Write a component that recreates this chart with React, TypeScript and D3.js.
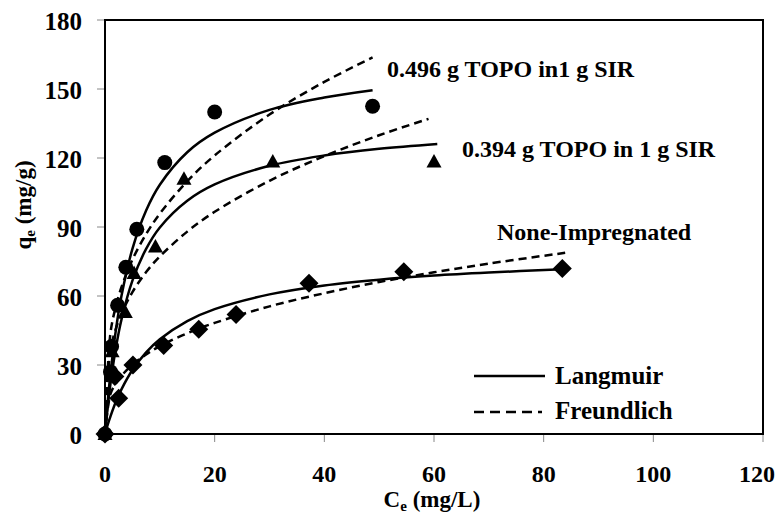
import React from "react";
import * as d3 from "d3";

// Experimental data (Ce mg/L, qe mg/g)
const circleData: [number, number][] = [
  [0, 0], [1.0, 27], [1.2, 38], [2.3, 56], [3.8, 72.5], [5.8, 89], [10.9, 118], [20, 140], [48.8, 142.5],
];
const triangleData: [number, number][] = [
  [0, 0], [1.3, 36], [3.7, 53], [5.3, 70], [9.2, 81.5], [14.4, 111], [30.6, 118.5], [60, 118.5],
];
const diamondData: [number, number][] = [
  [0, 0], [2.5, 15.5], [1.8, 25], [5.1, 30], [10.7, 38.5], [17.1, 45.5], [23.9, 52], [37.2, 65.5], [54.5, 70.5], [83.4, 72],
];

// Model curves (Ce, qe)
const langmuirCircle: [number, number][] = [
  [0, 0], [0.5, 14.3], [1, 26.3], [2, 45.5], [3, 60.0], [5, 80.5], [7.5, 97.2], [10, 108.4], [15, 122.5], [20, 131.0], [30, 140.9], [40, 146.3], [48.8, 149.5],
];
const freundlichCircle: [number, number][] = [
  [0, 0], [1, 44.0], [2, 55.6], [3, 63.8], [5, 75.8], [7.5, 86.9], [10, 95.8], [15, 109.9], [20, 121.1], [30, 138.9], [40, 153.1], [48.8, 163.7],
];
const langmuirTriangle: [number, number][] = [
  [0, 0], [0.5, 11.9], [1, 21.9], [2, 37.7], [3, 49.7], [5, 66.7], [7.5, 80.5], [10, 89.8], [15, 101.4], [20, 108.5], [30, 116.6], [40, 121.1], [50, 124.0], [60.6, 126.1],
];
const freundlichTriangle: [number, number][] = [
  [0, 0], [1, 36.7], [2, 45.9], [3, 52.3], [5, 61.7], [7.5, 70.4], [10, 77.2], [15, 88.0], [20, 96.6], [30, 110.1], [40, 120.8], [50, 129.9], [59, 137.0],
];
const langmuirNone: [number, number][] = [
  [0, 0], [0.5, 4.1], [1, 7.7], [2, 14.1], [3, 19.4], [5, 27.8], [7.5, 35.5], [10, 41.2], [15, 49.1], [20, 54.3], [30, 60.7], [40, 64.6], [50, 67.1], [60, 68.9], [70, 70.2], [83.4, 71.6],
];
const freundlichNone: [number, number][] = [
  [0, 0], [1, 17.4], [2, 22.0], [3, 25.3], [5, 30.1], [7.5, 34.6], [10, 38.2], [15, 43.8], [20, 48.3], [30, 55.5], [40, 61.2], [50, 66.1], [60, 70.3], [70, 74.1], [84.3, 78.9],
];

const xTicks = [0, 20, 40, 60, 80, 100, 120];
const yTicks = [0, 30, 60, 90, 120, 150, 180];
const seriesLabels = ["0.496 g TOPO in1 g SIR", "0.394 g TOPO in 1 g SIR", "None-Impregnated"];
const legendLabels = ["Langmuir", "Freundlich"];

const W = 777;
const H = 515;
const FONT = "'Liberation Serif', 'Times New Roman', serif";

export default function App() {
  const x = d3.scaleLinear().domain([0, 120]).range([105, 763]);
  const y = d3.scaleLinear().domain([0, 180]).range([434, 20]);
  const line = d3
    .line<[number, number]>()
    .x((d) => x(d[0]))
    .y((d) => y(d[1]))
    .curve(d3.curveCatmullRom.alpha(0.5));

  const solid = [langmuirCircle, langmuirTriangle, langmuirNone];
  const dashed = [freundlichCircle, freundlichTriangle, freundlichNone];

  const tri = (cx: number, cy: number) => {
    const s = 7.5;
    return `M${cx},${cy - s}L${cx + s},${cy + s * 0.8}L${cx - s},${cy + s * 0.8}Z`;
  };
  const dia = (cx: number, cy: number) => {
    const s = 9.5;
    return `M${cx},${cy - s}L${cx + s},${cy}L${cx},${cy + s}L${cx - s},${cy}Z`;
  };

  return (
    <svg
      width={W}
      height={H}
      style={{ position: "absolute", left: 0, top: 0, background: "#fff" }}
      fontFamily={FONT}
      fontWeight="bold"
    >
      <rect x={0} y={0} width={W} height={H} fill="#fff" />
      {/* ticks */}
      {yTicks.map((t) => (
        <g key={"y" + t}>
          <line x1={97} x2={105} y1={y(t)} y2={y(t)} stroke="#888" strokeWidth={1} />
          <text x={82} y={y(t)} dy="0.38em" textAnchor="end" fontSize={25} fill="#000">
            {t}
          </text>
        </g>
      ))}
      {xTicks.map((t) => (
        <g key={"x" + t}>
          <line x1={x(t)} x2={x(t)} y1={434} y2={442} stroke="#888" strokeWidth={1} />
          <text x={Math.min(x(t), 757)} y={482} textAnchor="middle" fontSize={24} fill="#000">
            {t}
          </text>
        </g>
      ))}
      {/* plot border */}
      <rect x={105} y={20} width={763 - 105} height={434 - 20} fill="none" stroke="#000" strokeWidth={2} />

      {/* model curves */}
      {solid.map((s, i) => (
        <path key={"s" + i} d={line(s) || ""} fill="none" stroke="#000" strokeWidth={2.5} />
      ))}
      {dashed.map((s, i) => (
        <path key={"d" + i} d={line(s) || ""} fill="none" stroke="#000" strokeWidth={2.5} strokeDasharray="8,5" />
      ))}

      {/* markers */}
      {circleData.map((d, i) => (
        <circle key={"c" + i} cx={x(d[0])} cy={y(d[1])} r={7.5} fill="#000" />
      ))}
      {triangleData.map((d, i) => (
        <path key={"t" + i} d={tri(x(d[0]), y(d[1]))} fill="#000" />
      ))}
      {diamondData.map((d, i) => (
        <path key={"m" + i} d={dia(x(d[0]), y(d[1]))} fill="#000" />
      ))}

      {/* series annotations */}
      <text x={387} y={77} fontSize={24}>{seriesLabels[0]}</text>
      <text x={462} y={157} fontSize={24}>{seriesLabels[1]}</text>
      <text x={497} y={240} fontSize={24}>{seriesLabels[2]}</text>

      {/* legend */}
      <line x1={474} x2={545} y1={376} y2={376} stroke="#000" strokeWidth={2.5} />
      <text x={555} y={384} fontSize={25}>{legendLabels[0]}</text>
      <line x1={474} x2={542} y1={412} y2={412} stroke="#000" strokeWidth={2.5} strokeDasharray="10,6" />
      <text x={555} y={419} fontSize={25}>{legendLabels[1]}</text>

      {/* axis titles */}
      <text x={432} y={507} textAnchor="middle" fontSize={23}>
        C<tspan fontSize={15} dy={4}>e</tspan>
        <tspan dy={-4}> (mg/L)</tspan>
      </text>
      <text transform="translate(31,205) rotate(-90)" textAnchor="middle" fontSize={23}>
        q<tspan fontSize={15} dy={4}>e</tspan>
        <tspan dy={-4}> (mg/g)</tspan>
      </text>
    </svg>
  );
}
